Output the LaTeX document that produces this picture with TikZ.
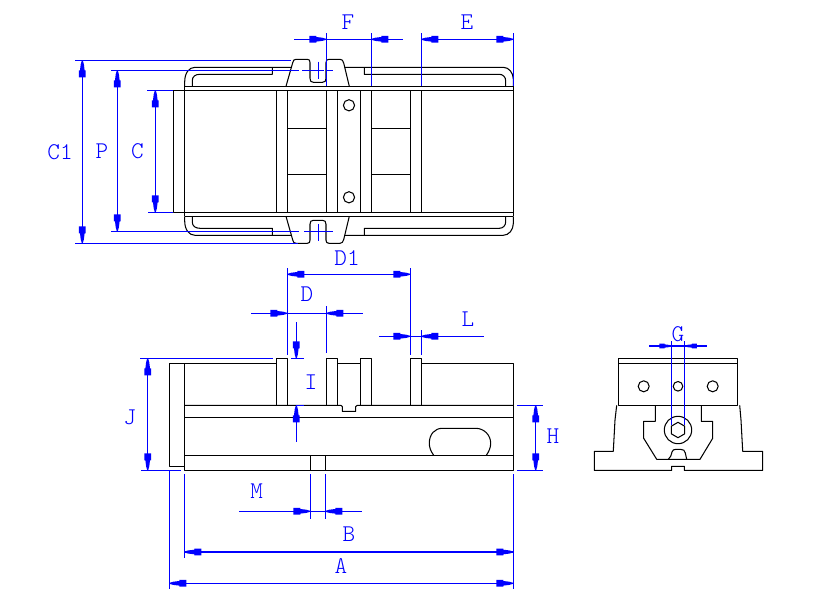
\documentclass[tikz,border=0pt]{standalone}
\usepackage{fontspec}
\setmonofont{Latin Modern Mono Light}
\definecolor{dimc}{RGB}{0,0,255}
\tikzset{
  part/.style={draw=black,line width=1.05pt,line join=round},
  dimline/.style={draw=dimc,line width=1.05pt},
  lab/.style={text=dimc,font=\ttfamily\fontsize{24}{24}\selectfont,inner sep=0pt,anchor=center}
}
\newcommand{\dimtip}[4][1]{\fill[dimc,shift={(#2,#3)},rotate=#4,scale=#1] (0.5,-0.6) -- (0.5,0.6) -- (4,1.6) -- (10,2.3) -- (10,3.4) -- (17,3.4) -- (17,-3.4) -- (10,-3.4) -- (10,-2.3) -- (4,-1.6) -- cycle;}
\newcommand{\flange}{%
  \draw[part] (184.7,86.3) -- (184.7,81.7) .. controls (184.7,73) and (189,67.3) .. (195,67.3) -- (291.4,67.3);
  \draw[part] (272.3,67.3) -- (272.3,74.3) -- (200,74.3) .. controls (195.5,74.3) and (192.3,76.5) .. (192.3,80.5) -- (192.3,86.3);
  \draw[part] (286,86.3) -- (292.7,62.7) .. controls (293.3,60.3) and (294,59.3) .. (296,59.3) -- (307.3,59.3) .. controls (309.3,59.3) and (310,60.3) .. (310,62.5) -- (310,78.3) .. controls (310,81) and (311,82.3) .. (313.3,82.3) -- (322.5,82.3) .. controls (325,82.3) and (326,81) .. (326,78.3) -- (326,62.5) .. controls (326,60.3) and (327,59.3) .. (329,59.3) -- (340,59.3) .. controls (342,59.3) and (343,60.5) .. (343.7,63) -- (349.3,86.3);
  \draw[part] (344.7,67.3) -- (503.3,67.3) .. controls (509,67.3) and (513.3,73) .. (513.3,79) -- (513.3,86.3);
  \draw[part] (364.3,67.3) -- (364.3,74.3) -- (499.3,74.3) .. controls (503,74.3) and (505.7,77) .. (505.7,81) -- (505.7,86.3);
}
\begin{document}
\begin{tikzpicture}[x=1pt,y=-1pt]
\useasboundingbox (0,0) rectangle (815,606);
\fill[white] (0,0) rectangle (815,606);
% ---- top view
\draw[part] (173.3,90.3) rectangle (513.3,212.3);
\draw[part] (184.7,86.3) -- (513.3,86.3);
\draw[part] (184.7,216.3) -- (513.3,216.3);
\draw[part] (184.7,86.3) -- (184.7,216.3);
\draw[part] (513.3,86.3) -- (513.3,216.3);
\foreach \x in {276.7,287.3,326.3,337.3,360.3,371.3,410.3,421.3}
  \draw[part] (\x,90.3) -- (\x,212.3);
\foreach \y in {128.3,174.3} {
  \draw[part] (287.3,\y) -- (326.3,\y);
  \draw[part] (371.3,\y) -- (410.3,\y);
}
\draw[part] (349,105.3) circle[radius=5.6];
\draw[part] (349,197.3) circle[radius=5.6];
\flange
\begin{scope}[shift={(0,302.6)},yscale=-1]
\flange
\end{scope}
% ---- front view
\draw[part] (184.3,363.3) -- (169.3,363.3) -- (169.3,466.3) -- (184.3,466.3);
\draw[part] (184.3,363.3) -- (184.3,470.3) -- (513.3,470.3) -- (513.3,363.3) -- (421.3,363.3);
\draw[part] (184.3,363.3) -- (276.3,363.3);
\draw[part] (337.3,363.3) -- (360.3,363.3);
\foreach \a/\b in {276.3/287.3,326.3/337.3,360.3/371.5,410.3/421.3}
  \draw[part] (\a,405.3) -- (\a,358.3) -- (\b,358.3) -- (\b,405.3);
\draw[part] (184.3,405.3) -- (340.7,405.3) -- (342.3,406.5) -- (342.3,411.3) -- (355.7,411.3) -- (355.7,406.5) -- (357.3,405.3) -- (513.3,405.3);
\draw[part] (184.3,417.3) -- (513.3,417.3);
\draw[part] (184.3,455.3) -- (513.3,455.3);
\draw[part] (310.3,455.3) -- (310.3,470.3);
\draw[part] (325.3,455.3) -- (325.3,470.3);
\draw[part] (433.7,455.3) .. controls (430.5,451) and (429.3,447) .. (429.3,443.3) .. controls (429.3,434) and (435,428.3) .. (442.3,428.3) -- (475.7,428.3) .. controls (484,428.3) and (490.7,435) .. (490.7,443.3) .. controls (490.7,447.5) and (489,451.5) .. (486.3,455.3);
% ---- side view
\draw[part] (618.3,358.3) rectangle (737.3,405.3);
\draw[part] (618.3,363.3) -- (737.3,363.3);
\draw[part] (643.7,386.3) circle[radius=5.5];
\draw[part] (678,386.3) circle[radius=4.8];
\draw[part] (712.7,386.3) circle[radius=5.5];
\draw[part] (616.7,405.3) -- (615,420) -- (613.3,451.3) -- (594.3,451.3) -- (594.3,470.3) -- (671.7,470.3) -- (671.7,466.3) -- (684.3,466.3) -- (684.3,470.3) -- (762.7,470.3) -- (762.7,451.3) -- (742.7,451.3) -- (741,420) -- (739.7,405.3);
\draw[part] (655.3,405.3) -- (655.3,421.3) -- (643.7,421.3) -- (643.7,438.3) -- (656.7,459.3) -- (700,459.3) -- (712.7,438.3) -- (712.7,421.3) -- (701.3,421.3) -- (701.3,405.3);
\draw[part] (678,430) circle[radius=13.7];
\draw[part] (678,422.3) -- (684.7,426.2) -- (684.7,433.8) -- (678,437.7) -- (671.3,433.8) -- (671.3,426.2) -- cycle;
\draw[part] (668.3,459.3) .. controls (670.5,457) and (671.5,455.5) .. (672,452) .. controls (672.5,450) and (674,449.3) .. (676,449.3) -- (680.5,449.3) .. controls (683.5,449.3) and (684.8,450.5) .. (685.3,453) .. controls (685.8,455.5) and (686,457) .. (686.7,459.3);
% ---- dimensions: top view
\draw[dimline] (294,39.3) -- (403.3,39.3);
\draw[dimline] (326.3,33.3) -- (326.3,86.3);
\draw[dimline] (371.3,33.3) -- (371.3,86.3);
\dimtip{326.3}{39.3}{180}
\dimtip{371.3}{39.3}{0}
\draw[dimline] (421.3,33.3) -- (421.3,86.3);
\draw[dimline] (513.3,33.3) -- (513.3,86.3);
\draw[dimline] (421.3,39.3) -- (513.3,39.3);
\dimtip{421.3}{39.3}{0}
\dimtip{513.3}{39.3}{180}
\draw[dimline] (75,60.3) -- (290.7,60.3);
\draw[dimline] (75,243.3) -- (298,243.3);
\draw[dimline] (82.3,60.3) -- (82.3,243.3);
\dimtip{82.3}{60.3}{-90}
\dimtip{82.3}{243.3}{90}
\draw[dimline] (111,70.3) -- (299,70.3);
\draw[dimline] (302,70.3) -- (324,70.3);
\draw[dimline] (326.3,70.3) -- (332.7,70.3);
\draw[dimline] (318.3,61.7) -- (318.3,79.3);
\draw[dimline] (111,231.3) -- (298.7,231.3);
\draw[dimline] (304,231.3) -- (332.7,231.3);
\draw[dimline] (318.3,224) -- (318.3,240.7);
\draw[dimline] (117.3,70.3) -- (117.3,231.3);
\dimtip{117.3}{70.3}{-90}
\dimtip{117.3}{231.3}{90}
\draw[dimline] (147,90.3) -- (173.3,90.3);
\draw[dimline] (148,212.3) -- (173.3,212.3);
\draw[dimline] (155.3,90.3) -- (155.3,212.3);
\dimtip{155.3}{90.3}{-90}
\dimtip{155.3}{212.3}{90}
% ---- dimensions: front view
\draw[dimline] (287.3,268.3) -- (287.3,355);
\draw[dimline] (410.3,268.3) -- (410.3,355);
\draw[dimline] (287.3,274.3) -- (410.3,274.3);
\dimtip{287.3}{274.3}{0}
\dimtip{410.3}{274.3}{180}
\draw[dimline] (251,313.3) -- (362.7,313.3);
\draw[dimline] (326.3,306) -- (326.3,353);
\dimtip{287.3}{313.3}{180}
\dimtip{326.3}{313.3}{0}
\draw[dimline] (379,336.3) -- (484,336.3);
\draw[dimline] (421.3,330) -- (421.3,355);
\dimtip{410.3}{336.3}{180}
\dimtip{421.3}{336.3}{0}
\draw[dimline] (296.3,322) -- (296.3,358.3);
\draw[dimline] (291.3,358.3) -- (303.7,358.3);
\draw[dimline] (295.7,405.3) -- (303.7,405.3);
\draw[dimline] (296.3,405.3) -- (296.3,441.7);
\dimtip{296.3}{358.3}{90}
\dimtip{296.3}{405.3}{-90}
\draw[dimline] (140,358.3) -- (272.7,358.3);
\draw[dimline] (141,470.3) -- (180.7,470.3);
\draw[dimline] (147.7,358.3) -- (147.7,470.3);
\dimtip{147.7}{358.3}{-90}
\dimtip{147.7}{470.3}{90}
\draw[dimline] (517.3,405.3) -- (542.7,405.3);
\draw[dimline] (517.3,470.3) -- (542.7,470.3);
\draw[dimline] (535.7,405.3) -- (535.7,470.3);
\dimtip{535.7}{405.3}{-90}
\dimtip{535.7}{470.3}{90}
\draw[dimline] (239,511.3) -- (361.7,511.3);
\draw[dimline] (310.3,474) -- (310.3,518.7);
\draw[dimline] (325.3,474) -- (325.3,518.7);
\dimtip{310.3}{511.3}{180}
\dimtip{325.3}{511.3}{0}
\draw[dimline] (169.3,471) -- (169.3,589.3);
\draw[dimline] (184.3,474) -- (184.3,557.7);
\draw[dimline] (513.3,474) -- (513.3,589.3);
\draw[dimline] (184.3,552) -- (513.3,552);
\draw[dimline] (169.3,583.3) -- (513.3,583.3);
\dimtip{184.3}{552}{0}
\dimtip{513.3}{552}{180}
\dimtip{169.3}{583.3}{0}
\dimtip{513.3}{583.3}{180}
% ---- dimensions: side view
\draw[dimline] (649.3,346) -- (706.7,346);
\draw[dimline] (671.7,341) -- (671.7,425);
\draw[dimline] (684.7,341) -- (684.7,425);
\dimtip[0.72]{671.7}{346}{180}
\dimtip[0.72]{684.7}{346}{0}
% ---- labels
\node[lab] (labF) at (348,22) {F};
\node[lab] (labE) at (467,22) {E};
\node[lab] (labCa) at (60,152) {C1};
\node[lab] (labP) at (102,151) {P};
\node[lab] (labC) at (137.5,151) {C};
\node[lab] (labDa) at (347,258) {D1};
\node[lab] (labD) at (307,294) {D};
\node[lab] (labL) at (468,319) {L};
\node[lab] (labG) at (678,334) {G};
\node[lab] (labI) at (311,382) {I};
\node[lab] (labJ) at (130,417) {J};
\node[lab] (labH) at (553,436) {H};
\node[lab] (labM) at (256.7,491) {M};
\node[lab] (labB) at (349,534) {B};
\node[lab] (labA) at (341,566) {A};
\end{tikzpicture}
\end{document}
